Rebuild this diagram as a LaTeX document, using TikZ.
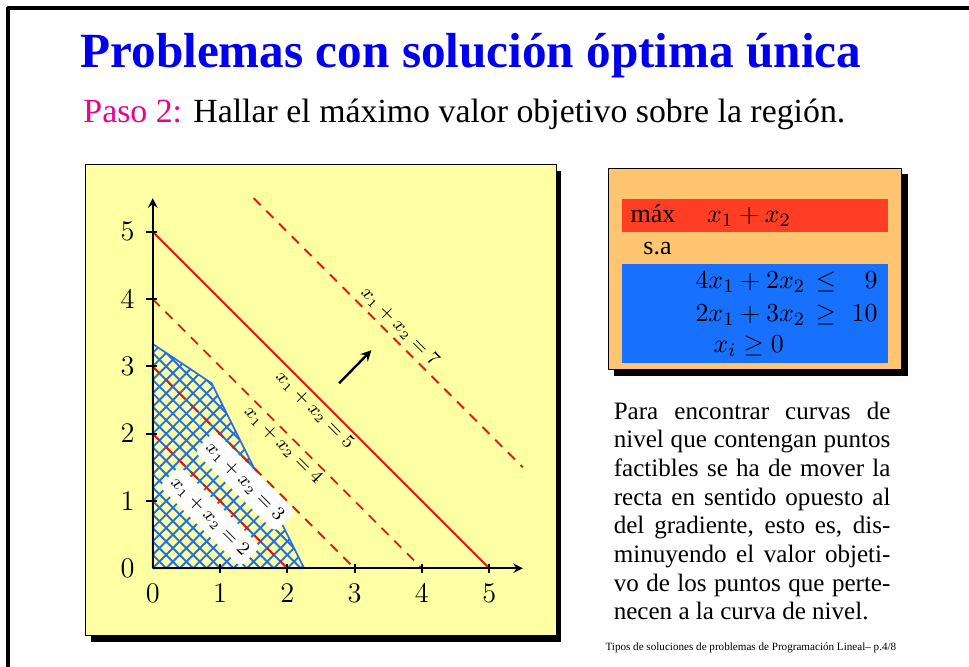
\documentclass[tikz,border=0pt]{standalone}
\usepackage{fontspec}
\setmainfont{Liberation Serif}
\definecolor{panelyellow}{RGB}{255,255,163}
\definecolor{boxorange}{RGB}{255,197,112}
\definecolor{barred}{RGB}{255,62,36}
\definecolor{barblue}{RGB}{24,112,255}
\definecolor{linered}{RGB}{226,24,24}
\definecolor{hatchblue}{RGB}{34,112,228}
\definecolor{titleblue}{RGB}{0,0,238}
\tikzset{
  txt/.style={inner sep=0pt, anchor=base west},
  lvline/.style={linered, line width=0.8pt},
  dashlvl/.style={lvline, dash pattern=on 4.2pt off 3.4pt},
  lvlab/.style={font=\fontsize{7.6}{9}\selectfont, rotate=-45, inner sep=1.5pt},
  whitelab/.style={lvlab, fill=white, rounded corners=2.5pt, inner xsep=2.5pt, inner ysep=3pt},
  ticklab/.style={font=\fontsize{12}{14}\selectfont, inner sep=0pt},
  boxfont/.style={font=\fontsize{11}{13}\selectfont},
  hatchline/.style={hatchblue, line width=0.8pt}
}
\begin{document}
\begin{tikzpicture}[line join=round, >=stealth]
\useasboundingbox (-2.269,-1.452) rectangle (12.129,8.444);
\draw[line width=1.3pt] (-2.15,-1.6)--(-2.15,8.325)--(12.3,8.325);
\node[txt, text=titleblue, font=\fontsize{20.8}{24}\selectfont\bfseries] (title) at (-1.08,7.434) {Problemas con solución óptima única};
\node[txt, font=\fontsize{14.3}{17}\selectfont] (paso) at (-1.036,6.617) {\textcolor{magenta}{Paso 2:} Hallar el máximo valor objetivo sobre la región.};
% grafico
\fill[black] (-0.92,-1.09) rectangle (6.07,5.91);
\filldraw[fill=panelyellow, draw=black, line width=0.6pt] (-1,-1) rectangle (6,6);
\begin{scope}
\clip (0,0)--(0,10/3)--(0.875,2.75)--(2.25,0)--cycle;
\foreach \c in {-3,-2.8,...,3.6} \draw[hatchline] (0,\c)--++(4,4);
\foreach \c in {0,0.2,...,6} \draw[hatchline] (0,\c)--++(4,-4);
\end{scope}
\draw[hatchline, line width=0.7pt] (0,0)--(0,10/3)--(0.875,2.75)--(2.25,0)--cycle;
\foreach \k in {2,3,4} \draw[dashlvl] (0,\k)--(\k,0);
\draw[lvline] (0,5)--(5,0);
\draw[dashlvl] (1.5,5.5)--(5.5,1.5);
\node[lvlab] (l7) at (3.675,3.59) {$x_1+x_2=7$};
\node[lvlab] (l5) at (2.41,2.35) {$x_1+x_2=5$};
\node[lvlab] (l4) at (1.94,1.83) {$x_1+x_2=4$};
\node[whitelab] (l3) at (1.37,1.29) {$x_1+x_2=3$};
\node[whitelab] (l2) at (0.85,0.77) {$x_1+x_2=2$};
\path (2.77,2.75) coordinate (g0) (3.25,3.24) coordinate (g1);
\draw[->, line width=1pt] (g0)--(g1);
\draw[->, line width=0.8pt] (0,0)--(5.5,0);
\draw[->, line width=0.8pt] (0,0)--(0,5.5);
\foreach \i in {1,...,5} {
  \draw[line width=0.9pt] (\i,-0.07)--(\i,0.07);
  \draw[line width=0.9pt] (-0.1,\i)--(0.07,\i);
}
\foreach \i in {0,...,5} {
  \node[ticklab, anchor=north] (tx\i) at (\i,-0.235) {$\i$};
  \node[ticklab, anchor=east] (ty\i) at (-0.263,\i) {$\i$};
}
% modelo
\fill[black] (6.85,2.86) rectangle (11.22,5.86);
\filldraw[fill=boxorange, draw=black, line width=0.6pt] (6.77,2.957) rectangle (11.129,5.944);
\fill[barred] (6.969,5.001) rectangle (10.921,5.483);
\fill[barblue] (6.969,3.055) rectangle (10.921,4.522);
\node[txt, boxfont] (max) at (7.095,5.131) {máx};
\node[txt, boxfont] (obj) at (8.232,5.131) {$x_1+x_2$};
\node[txt, boxfont] (sa) at (7.285,4.666) {s.a};
\node[txt, boxfont] (r1) at (8.058,4.16) {$4x_1+2x_2$};
\node[txt, boxfont, anchor=base] (le) at (10.004,4.16) {$\le$};
\node[txt, boxfont, anchor=base east] (nine) at (10.777,4.16) {$9$};
\node[txt, boxfont] (r2) at (8.058,3.664) {$2x_1+3x_2$};
\node[txt, boxfont, anchor=base] (ge) at (10.004,3.664) {$\ge$};
\node[txt, boxfont, anchor=base east] (ten) at (10.777,3.664) {$10$};
\node[txt, boxfont] (r3) at (8.327,3.204) {$x_i\ge 0$};
% texto
\node[txt, text width=4.111cm, align=justify, font=\fontsize{10.6}{12.1}\selectfont] (nota) at (6.844,2.214) {Para encontrar curvas de\linebreak nivel que contengan puntos\linebreak factibles se ha de mover la\linebreak recta en sentido opuesto al\linebreak del gradiente, esto es, dis-\linebreak minuyendo el valor objeti-\linebreak vo de los puntos que perte-\linebreak necen a la curva de nivel.};
\node[txt, font=\fontsize{4.7}{6}\selectfont] (pie) at (6.721,-1.214) {Tipos de soluciones de problemas de Programación Lineal-- p.4/8};
\end{tikzpicture}
\end{document}
